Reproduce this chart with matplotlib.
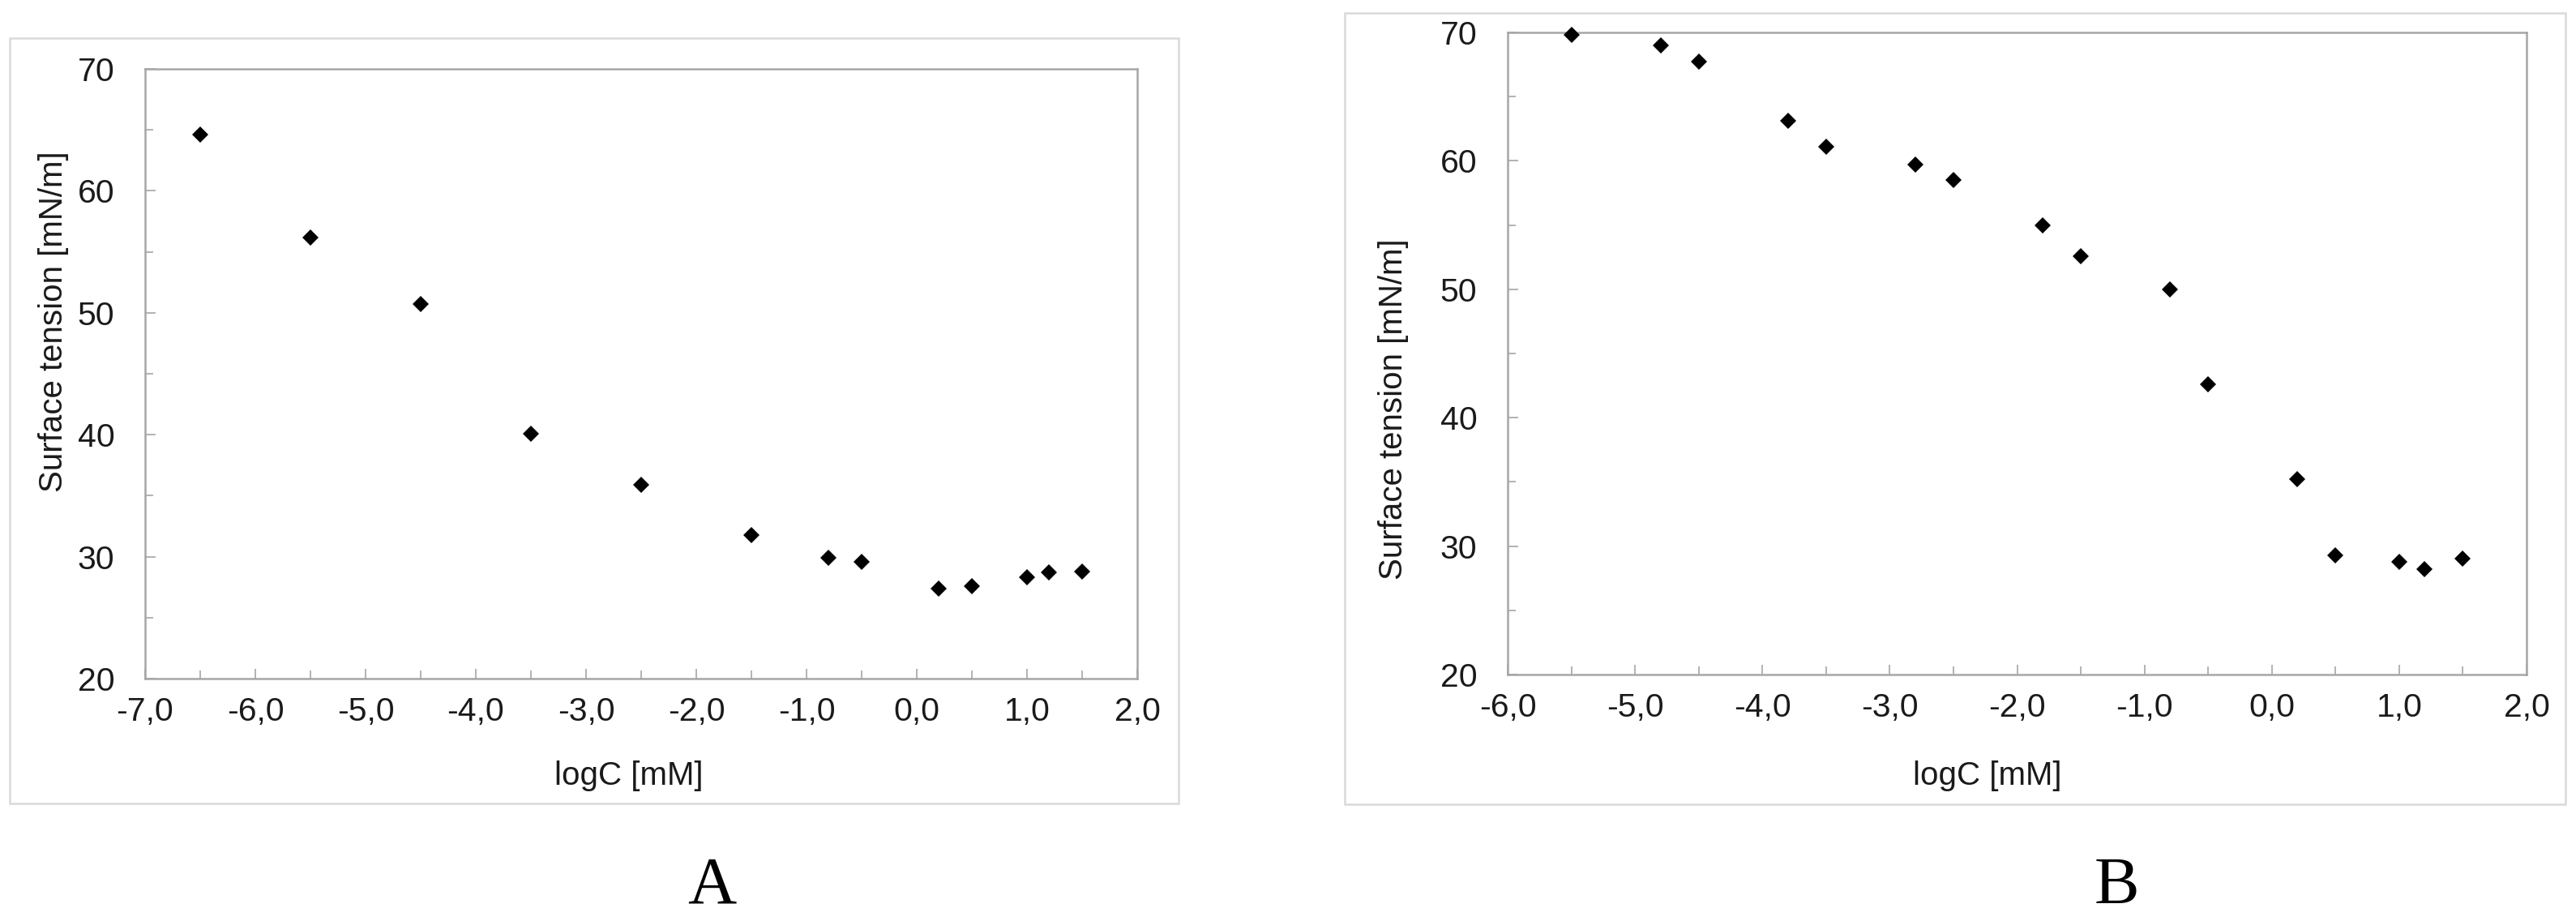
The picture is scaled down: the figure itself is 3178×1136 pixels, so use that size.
import matplotlib
matplotlib.use("Agg")
import matplotlib.pyplot as plt
from matplotlib.patches import Rectangle
from matplotlib.ticker import MultipleLocator, FuncFormatter

# panel A
logc_a = [-6.5, -5.5, -4.5, -3.5, -2.5, -1.5, -0.8, -0.5, 0.2, 0.5, 1.0, 1.2, 1.5]
tension_a = [64.6, 56.2, 50.7, 40.1, 35.9, 31.8, 29.9, 29.6, 27.4, 27.6, 28.3, 28.7, 28.8]

# panel B
logc_b = [-5.5, -4.8, -4.5, -3.8, -3.5, -2.8, -2.5, -1.8, -1.5, -0.8, -0.5,
          0.2, 0.5, 1.0, 1.2, 1.5]
tension_b = [69.8, 69.0, 67.7, 63.1, 61.1, 59.7, 58.5, 55.0, 52.6, 50.0, 42.6,
             35.2, 29.3, 28.8, 28.2, 29.0]

xlabel = "logC [mM]"
ylabel = "Surface tension [mN/m]"

W, H = 3178, 1136
plt.rcParams['font.family'] = ['Liberation Sans', 'DejaVu Sans']

fig = plt.figure(figsize=(W / 100, H / 100), dpi=100)


def frac(x0, y0, x1, y1):
    # pixel box (top-down) -> figure fraction rect
    return [x0 / W, 1 - y1 / H, (x1 - x0) / W, (y1 - y0) / H]


def comma(v, pos):
    return f"{v:.1f}".replace(".", ",")


def panel(rect, box, xs, ys, xlim, xlab_xy, ylab_xy, letter_xy, letter):
    r = frac(*box)
    fig.add_artist(Rectangle((r[0], r[1]), r[2], r[3], transform=fig.transFigure,
                             fill=False, ec='#d9d9d9', lw=1.8))
    ax = fig.add_axes(frac(*rect))
    ax.plot(xs, ys, 'D', color='black', ms=10, mew=0, clip_on=False, zorder=3)
    ax.set_xlim(*xlim)
    ax.set_ylim(20, 70)
    ax.xaxis.set_major_locator(MultipleLocator(1))
    ax.xaxis.set_minor_locator(MultipleLocator(0.5))
    ax.yaxis.set_major_locator(MultipleLocator(10))
    ax.yaxis.set_minor_locator(MultipleLocator(5))
    ax.xaxis.set_major_formatter(FuncFormatter(comma))
    for s in ax.spines.values():
        s.set_color('#a6a6a6')
        s.set_linewidth(1.8)
    ax.tick_params(which='both', direction='in', color='#a6a6a6', width=1.2,
                   labelsize=29.5, labelcolor='#1a1a1a', top=False, right=False)
    ax.tick_params(which='major', length=9)
    ax.tick_params(which='minor', length=7)
    ax.tick_params(axis='x', which='major', pad=16)
    ax.tick_params(axis='y', which='major', pad=27)

    fig.text(xlab_xy[0] / W, 1 - xlab_xy[1] / H, xlabel, fontsize=29,
             color='#1a1a1a', ha='center', va='center')
    fig.text(ylab_xy[0] / W, 1 - ylab_xy[1] / H, ylabel, fontsize=29,
             color='#1a1a1a', ha='center', va='center', rotation=90)
    fig.text(letter_xy[0] / W, 1 - letter_xy[1] / H, letter, fontsize=60,
             family=['Liberation Serif', 'DejaVu Serif'], color='black',
             ha='center', va='baseline')
    return ax


panel((179, 85, 1403, 837), (12, 47, 1454, 991), logc_a, tension_a, (-7, 2),
      (776, 957), (66, 397), (878, 1114), "A")
panel((1860, 40, 3117, 832), (1659, 16, 3165, 992), logc_b, tension_b, (-6, 2),
      (2452, 957), (1719, 505), (2611, 1114), "B")

fig.savefig("out.png", dpi=100)
